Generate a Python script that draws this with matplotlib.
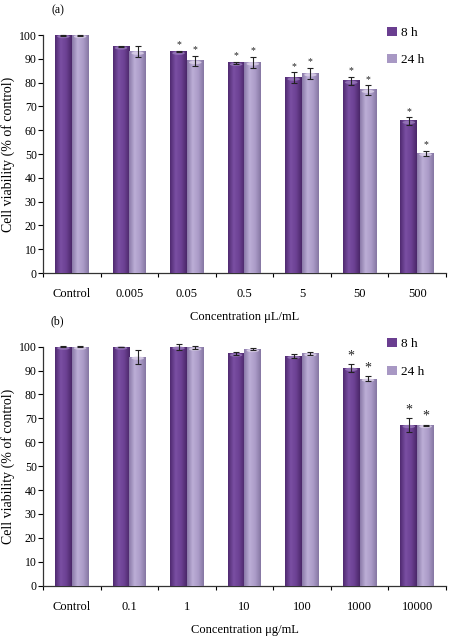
import numpy as np
import matplotlib
matplotlib.use("Agg")
import matplotlib.pyplot as plt
from matplotlib.patches import Ellipse, Patch
from matplotlib.colors import LinearSegmentedColormap

plt.rcParams['font.family'] = ['Liberation Serif', 'DejaVu Serif']

# ---- data ----
cats_a = ["Control", "0.005", "0.05", "0.5", "5", "50", "500"]
h8_a = [100, 95.2, 93.0, 88.3, 82.1, 80.7, 63.9]
h24_a = [100, 93.0, 89.1, 88.5, 83.9, 76.9, 50.4]
e8_a = [0.2, 0.3, 0.3, 0.6, 2.2, 1.8, 1.6]
e24_a = [0.2, 2.4, 2.2, 2.4, 2.4, 2.0, 1.1]
star8_a = [False, False, True, True, True, True, True]
star24_a = [False, False, True, True, True, True, True]

cats_b = ["Control", "0.1", "1", "10", "100", "1000", "10000"]
h8_b = [100, 100, 100, 97.1, 96.1, 91.1, 67.2]
h24_b = [100, 95.8, 99.6, 99.0, 97.2, 86.6, 67.2]
e8_b = [0.2, 0.0, 1.2, 0.7, 1.0, 1.5, 2.8]
e24_b = [0.2, 2.9, 0.7, 0.4, 0.6, 1.1, 0.2]
star8_b = [False, False, False, False, False, True, True]
star24_b = [False, False, False, False, False, True, True]

series_labels = ["8 h", "24 h"]
yticks = list(range(0, 101, 10))

dark = "#6a3e90"
light = "#a898c4"
cmap_dark = LinearSegmentedColormap.from_list("d", ["#4f2a70", "#7a4fa3", "#6c4193", "#4a2768"])
cmap_light = LinearSegmentedColormap.from_list("l", ["#8a7aa8", "#bcaed6", "#ab9bc8", "#8677a3"])

fig = plt.figure(figsize=(4.5, 6.38), dpi=100)
ax_a = fig.add_axes([0.0956, 0.572, 0.8954, 0.373])
ax_b = fig.add_axes([0.0956, 0.082, 0.8954, 0.3746])

grad = np.linspace(0, 1, 64).reshape(1, -1)


def draw_panel(ax, cats, v8, v24, e8, e24, s8, s24, xlabel, star_size, star_off):
    n = len(cats)
    x = np.arange(n)
    w = 0.29
    b1 = ax.bar(x - w / 2, v8, w, color=dark, zorder=2)
    b2 = ax.bar(x + w / 2, v24, w, color=light, zorder=2)
    for bars, cm, cap in ((b1, cmap_dark, "#9a7cbc"), (b2, cmap_light, "#ddd3ea")):
        for r in bars:
            x0, wd, h = r.get_x(), r.get_width(), r.get_height()
            ax.imshow(grad, cmap=cm, aspect='auto', extent=(x0, x0 + wd, 0, h),
                      zorder=3, interpolation='bilinear')
            ax.add_patch(Ellipse((x0 + wd / 2, h - 0.6), wd * 0.75, 1.4,
                                 facecolor=cap, edgecolor='none', zorder=4,
                                 alpha=0.8, clip_on=False))
    ax.errorbar(x - w / 2, v8, yerr=e8, fmt='none', ecolor='#222222', elinewidth=0.8,
                capsize=2.5, capthick=0.8, zorder=5, clip_on=False)
    ax.errorbar(x + w / 2, v24, yerr=e24, fmt='none', ecolor='#222222', elinewidth=0.8,
                capsize=2.5, capthick=0.8, zorder=5, clip_on=False)
    for i in range(n):
        if s8[i]:
            ax.text(x[i] - w / 2, v8[i] + e8[i] + star_off, "*", ha='center', va='center',
                    fontsize=star_size, color='#222222', clip_on=False)
        if s24[i]:
            ax.text(x[i] + w / 2, v24[i] + e24[i] + star_off, "*", ha='center', va='center',
                    fontsize=star_size, color='#222222', clip_on=False)
    ax.set_xlim(-0.5, n - 0.5)
    ax.set_ylim(0, 100)
    ax.set_yticks(yticks)
    ax.set_yticklabels([str(t) for t in yticks], fontsize=8.5)
    ax.set_xticks(np.arange(n + 1) - 0.5, minor=False)
    ax.set_xticklabels([])
    ax.set_xticks(x, minor=True)
    ax.set_xticklabels(cats, minor=True, fontsize=9)
    ax.tick_params(axis='x', which='minor', length=0, pad=11)
    ax.tick_params(axis='x', which='major', length=3, width=0.8, direction='out')
    ax.tick_params(axis='y', length=3.5, width=0.8, pad=1)
    for s in ('top', 'right'):
        ax.spines[s].set_visible(False)
    for s in ('left', 'bottom'):
        ax.spines[s].set_linewidth(0.9)
        ax.spines[s].set_color('#333333')
    ax.set_ylabel("Cell viability (% of control)", fontsize=10, labelpad=3)
    ax.set_xlabel(xlabel, fontsize=9, labelpad=8)
    handles = [Patch(facecolor=dark, edgecolor='none'), Patch(facecolor=light, edgecolor='none')]
    ax.legend(handles, series_labels, loc='upper left', bbox_to_anchor=(0.825, 1.085),
              frameon=False, fontsize=9.5, handlelength=0.7, handleheight=0.7,
              handletextpad=0.3, labelspacing=1.15)


draw_panel(ax_a, cats_a, h8_a, h24_a, e8_a, e24_a, star8_a, star24_a,
           "Concentration μL/mL", 7, 2.5)
draw_panel(ax_b, cats_b, h8_b, h24_b, e8_b, e24_b, star8_b, star24_b,
           "Concentration μg/mL", 10, 3.5)

fig.text(0.128, 0.984, "(a)", fontsize=8.5, ha='center', va='center')
fig.text(0.128, 0.496, "(b)", fontsize=8.5, ha='center', va='center')

fig.savefig("out.png", dpi=100, facecolor='white')
